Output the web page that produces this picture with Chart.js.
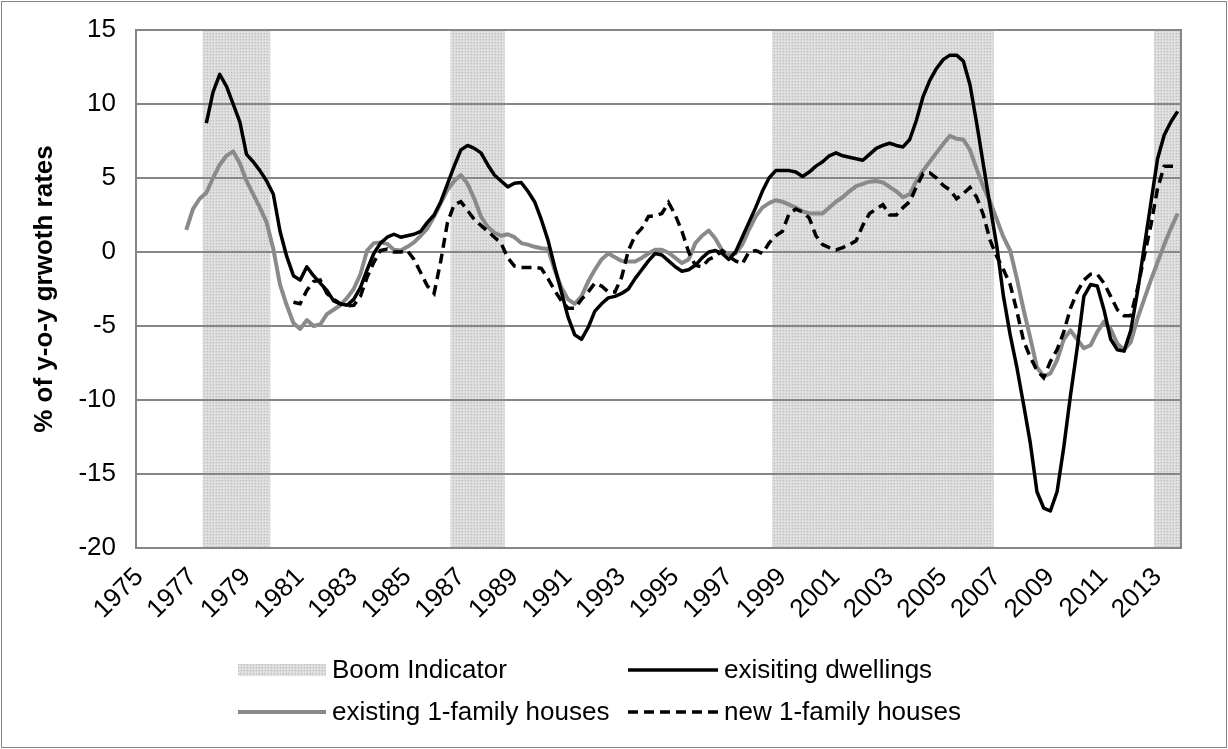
<!DOCTYPE html>
<html>
<head>
<meta charset="utf-8">
<script src="https://cdn.jsdelivr.net/npm/chart.js@4.4.1/dist/chart.umd.min.js"></script>
<style>
  body { margin: 0; background: #fff; font-family: "Liberation Sans", Arial, sans-serif; }
  #wrap { position: relative; width: 1228px; height: 749px; }
  #frame { position: absolute; left: 1px; top: 1px; width: 1224px; height: 745px; border: 1px solid #868686; pointer-events: none; }
  #chart { position: absolute; left: 0; top: 0; }
  .lg { position: absolute; display: flex; align-items: center; font-size: 26px; color: #000; white-space: nowrap; }
  .lg canvas { margin-right: 6px; }
</style>
</head>
<body>
<div id="wrap">
  <canvas id="chart" width="1228" height="749"></canvas>
  <div id="frame"></div>
  <div class="lg" style="left:238px; top:654px;"><canvas id="swBoom" width="88" height="30"></canvas>Boom Indicator</div>
  <div class="lg" style="left:628px; top:654px;"><canvas id="swDw" width="90" height="30"></canvas>exisiting dwellings</div>
  <div class="lg" style="left:238px; top:696px;"><canvas id="swEx" width="88" height="30"></canvas>existing 1-family houses</div>
  <div class="lg" style="left:628px; top:696px;"><canvas id="swNew" width="90" height="30"></canvas>new 1-family houses</div>
</div>
<script>
// ---- data (quarterly, 1975 Q1 - 2013 Q4) ----
const years = [];
for (let y = 1975; y <= 2013; y++) years.push(y);
const quarters = ["Q1", "Q2", "Q3", "Q4"];

// 1 = boom quarter, null = no boom
const boomIndicator = [
  null,null,null,null, null,null,null,null, null,null,1,1, 1,1,1,1, 1,1,1,1,          // 1975-79
  null,null,null,null, null,null,null,null, null,null,null,null, null,null,null,null, null,null,null,null, // 1980-84
  null,null,null,null, null,null,null,1, 1,1,1,1, 1,1,1,null, null,null,null,null,   // 1985-89
  null,null,null,null, null,null,null,null, null,null,null,null, null,null,null,null, null,null,null,null, // 1990-94
  null,null,null,null, null,null,null,null, null,null,null,null, null,null,null,1, 1,1,1,1, // 1995-99
  1,1,1,1, 1,1,1,1, 1,1,1,1, 1,1,1,1, 1,1,1,1,                                      // 2000-04
  1,1,1,1, 1,1,1,1, null,null,null,null, null,null,null,null, null,null,null,null,   // 2005-09
  null,null,null,null, null,null,null,null, null,null,null,null, 1,1,1,1            // 2010-13
];

const existingDwellings = [
  null,null,null,null, null,null,null,null, null,null,8.7,10.8, 12.0,11.2,10.0,8.8, 6.6,6.1,5.5,4.8,
  3.9,1.4,-0.3,-1.6, -1.9,-1.0,-1.6,-2.1, -2.6,-3.3,-3.5,-3.6, -3.2,-2.4,-1.2,-0.1, 0.6,1.0,1.2,1.0,
  1.1,1.2,1.4,2.0, 2.5,3.4,4.6,5.8, 6.9,7.2,7.0,6.7, 5.9,5.2,4.8,4.4, 4.65,4.7,4.1,3.4,
  2.2,0.8,-1.0,-2.7, -4.4,-5.6,-5.9,-5.1, -4.0,-3.5,-3.1,-3.0, -2.8,-2.5,-1.8,-1.2, -0.6,-0.1,-0.2,-0.6,
  -1.0,-1.3,-1.2,-0.9, -0.4,0.0,0.1,-0.1, -0.5,0.0,1.0,2.0, 3.0,4.1,5.0,5.5, 5.5,5.5,5.4,5.1,
  5.4,5.8,6.1,6.5, 6.7,6.5,6.4,6.3, 6.2,6.6,7.0,7.2, 7.35,7.2,7.1,7.6, 8.9,10.5,11.6,12.4,
  13.0,13.3,13.3,12.9, 11.3,8.7,5.9,3.1, 0.4,-3.0,-5.6,-7.8, -10.3,-12.9,-16.2,-17.3, -17.5,-16.2,-13.2,-9.7,
  -6.5,-3.0,-2.2,-2.3, -3.9,-5.9,-6.6,-6.7, -5.3,-2.7,0.3,3.3, 6.3,7.9,8.8,9.5
];

const existingOneFamily = [
  null,null,null,null, null,null,null,1.5, 2.9,3.6,4.0,5.0, 5.9,6.5,6.8,6.0, 4.8,3.9,3.0,2.0,
  0.2,-2.2,-3.6,-4.8, -5.2,-4.6,-5.0,-4.9, -4.2,-3.9,-3.6,-3.1, -2.5,-1.5,0.1,0.6, 0.65,0.55,0.15,0.1,
  0.35,0.65,1.1,1.6, 2.4,3.3,4.2,4.8, 5.2,4.6,3.6,2.4, 1.7,1.3,1.1,1.2, 1.0,0.6,0.5,0.35,
  0.25,0.2,-1.2,-2.4, -3.2,-3.5,-3.0,-2.0, -1.2,-0.5,-0.1,-0.35, -0.6,-0.65,-0.65,-0.4, -0.1,0.15,0.15,-0.05,
  -0.4,-0.75,-0.5,0.6, 1.1,1.45,0.9,0.1, -0.15,-0.1,0.5,1.5, 2.4,3.0,3.3,3.5, 3.4,3.2,3.0,2.75,
  2.6,2.6,2.6,3.0, 3.4,3.7,4.1,4.45, 4.6,4.75,4.8,4.7, 4.4,4.1,3.7,3.9, 4.8,5.5,6.1,6.7,
  7.3,7.85,7.65,7.6, 6.9,5.6,4.4,3.4, 2.2,1.0,0.1,-1.8, -3.9,-5.8,-7.8,-8.4, -8.2,-7.3,-5.9,-5.3,
  -5.9,-6.5,-6.3,-5.4, -4.7,-5.2,-6.2,-6.6, -6.1,-4.5,-3.2,-1.9, -0.7,0.5,1.6,2.6
];

const newOneFamily = [
  null,null,null,null, null,null,null,null, null,null,null,null, null,null,null,null, null,null,null,null,
  null,null,null,-3.4, -3.5,-2.6,-2.0,-1.9, -2.8,-3.2,-3.5,-3.65, -3.6,-3.0,-1.7,-0.7, 0.1,0.2,0.0,0.0,
  0.1,-0.5,-1.4,-2.3, -2.8,-0.6,2.0,3.2, 3.4,2.8,2.2,1.8, 1.4,1.0,0.6,-0.4, -0.95,-1.04,-1.04,-1.04,
  -1.1,-1.8,-2.6,-3.3, -3.8,-3.8,-3.2,-2.7, -2.1,-2.3,-2.7,-2.7, -1.7,0.1,1.1,1.6, 2.4,2.45,2.6,3.35,
  2.5,1.4,0.0,-0.9, -1.0,-0.5,-0.3,0.1, -0.3,-0.6,-0.8,0.0, 0.1,-0.1,0.6,1.1, 1.4,2.6,2.9,2.7,
  2.3,1.1,0.5,0.3, 0.14,0.3,0.5,0.76, 1.8,2.6,2.9,3.2, 2.5,2.5,3.0,3.4, 4.4,5.3,5.35,5.0,
  4.5,4.2,3.6,3.95, 4.36,3.7,2.5,0.8, -0.3,-1.2,-2.2,-4.0, -6.0,-7.1,-8.0,-8.5, -7.4,-6.6,-5.4,-3.8,
  -2.7,-1.9,-1.5,-1.5, -2.1,-3.0,-3.9,-4.3, -4.3,-2.5,-0.3,1.8, 4.3,5.8,5.8,5.8
];

const yTicks = { min: -20, max: 15, step: 5 };

// category labels: one per quarter, year shown every 8th quarter
const quarterLabels = years.flatMap(y => quarters.map(q => String(y)));

// ---- styles ----
const GRID = "#868686";
const GRAY = "#8a8a8a";
const FONT = '"Liberation Sans", Arial, sans-serif';
const TXT = 26;

function makePattern() {
  const c = document.createElement("canvas");
  c.width = 3; c.height = 3;
  const g = c.getContext("2d");
  g.fillStyle = "#dadada";
  g.fillRect(0, 0, 3, 3);
  g.fillStyle = "#bdbdbd";
  g.fillRect(0, 0, 1, 1);
  g.fillStyle = "#ececec";
  g.fillRect(1, 2, 1, 1);
  return c;
}
const tile = makePattern();
const chartCtx = document.getElementById("chart").getContext("2d");
const boomFill = chartCtx.createPattern(tile, "repeat");

// redraw grid lines and plot border on top of the boom shading, under the lines
const gridOverBoom = {
  id: "gridOverBoom",
  afterDatasetDraw(chart, args) {
    if (args.index !== 0) return;
    const { ctx, chartArea: a, scales: { y } } = chart;
    ctx.save();
    ctx.strokeStyle = GRID;
    ctx.lineWidth = 2;
    y.ticks.forEach(t => {
      const py = Math.round(y.getPixelForValue(t.value));
      ctx.beginPath();
      ctx.moveTo(a.left, py);
      ctx.lineTo(a.right, py);
      ctx.stroke();
    });
    ctx.strokeRect(a.left, a.top, a.right - a.left, a.bottom - a.top);
    ctx.restore();
  }
};

Chart.defaults.font.family = FONT;
Chart.defaults.color = "#000";

new Chart(chartCtx, {
  type: "line",
  data: {
    labels: quarterLabels,
    datasets: [
      {
        type: "bar",
        label: "Boom Indicator",
        data: boomIndicator,
        yAxisID: "yBoom",
        backgroundColor: boomFill,
        borderWidth: 0,
        barPercentage: 1,
        categoryPercentage: 1,
        order: 10,
      },
      {
        label: "exisiting dwellings",
        data: existingDwellings,
        borderColor: "#000",
        borderWidth: 3.5,
        pointRadius: 0,
        tension: 0,
        borderJoinStyle: "round",
        order: 0,
      },
      {
        label: "existing 1-family houses",
        data: existingOneFamily,
        borderColor: GRAY,
        borderWidth: 4,
        pointRadius: 0,
        tension: 0,
        borderJoinStyle: "round",
        order: 2,
      },
      {
        label: "new 1-family houses",
        data: newOneFamily,
        borderColor: "#000",
        borderWidth: 3.5,
        borderDash: [10, 6],
        pointRadius: 0,
        tension: 0,
        order: 1,
      },
    ],
  },
  options: {
    responsive: false,
    animation: false,
    layout: { padding: { top: 30, right: 47, left: 0, bottom: 0 } },
    plugins: { legend: { display: false }, tooltip: { enabled: false } },
    scales: {
      x: {
        type: "category",
        offset: true,
        grid: { display: false },
        border: { display: false },
        ticks: {
          autoSkip: false,
          minRotation: 45,
          maxRotation: 45,
          padding: 6,
          font: { size: TXT },
          callback: function (v, i) { return i % 8 === 0 ? this.getLabelForValue(v) : ""; },
        },
        afterFit: s => { s.height = 201; },
      },
      y: {
        min: yTicks.min,
        max: yTicks.max,
        ticks: { stepSize: yTicks.step, padding: 3, font: { size: TXT } },
        // grid hidden (redrawn by plugin); tickLength only spaces the labels
        grid: { display: false, drawTicks: true, tickLength: 17 },
        border: { display: false },
        title: {
          display: true,
          text: "% of y-o-y grwoth rates",
          font: { size: TXT, weight: "bold" },
          padding: { top: 29, bottom: 0 },
        },
        afterFit: s => { s.width = 136; },
      },
      yBoom: { display: false, min: 0, max: 1 },
    },
  },
  plugins: [gridOverBoom],
});

// ---- legend swatches ----
function swatch(id, draw) {
  const c = document.getElementById(id);
  draw(c.getContext("2d"), c.width, c.height);
}
swatch("swBoom", (g, w, h) => {
  g.fillStyle = g.createPattern(tile, "repeat");
  g.fillRect(0, h / 2 - 6, w, 12);
});
swatch("swDw", (g, w, h) => {
  g.strokeStyle = "#000"; g.lineWidth = 3.5;
  g.beginPath(); g.moveTo(0, h / 2); g.lineTo(w, h / 2); g.stroke();
});
swatch("swEx", (g, w, h) => {
  g.strokeStyle = GRAY; g.lineWidth = 4;
  g.beginPath(); g.moveTo(0, h / 2); g.lineTo(w, h / 2); g.stroke();
});
swatch("swNew", (g, w, h) => {
  g.strokeStyle = "#000"; g.lineWidth = 3.5; g.setLineDash([10, 6]);
  g.beginPath(); g.moveTo(0, h / 2); g.lineTo(w, h / 2); g.stroke();
});
</script>
</body>
</html>
